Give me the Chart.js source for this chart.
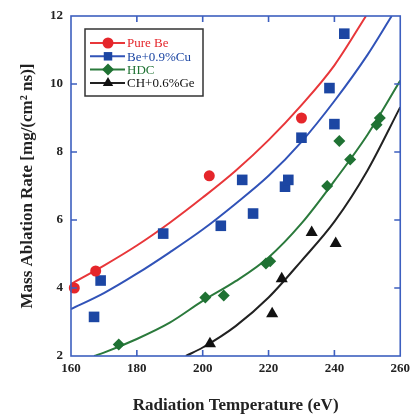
<!DOCTYPE html>
<html>
<head>
<meta charset="utf-8">
<script src="https://cdn.jsdelivr.net/npm/chart.js@4/dist/chart.umd.min.js"></script>
<style>
  html, body { margin: 0; padding: 0; background: #fff; }
  #wrap { width: 415px; height: 417px; }
</style>
</head>
<body>
<div id="wrap"><canvas id="ablationChart" width="415" height="417"></canvas></div>
<script>
// Measured ablation rates, temperature in eV, rate in mg/(cm2 ns)
const pureBeT = [161, 167.5, 202, 230];
const pureBeRate = [4.0, 4.5, 7.3, 9.0];

const beCuT = [167, 169, 188, 205.5, 212, 215.3, 225, 226, 230, 238.5, 240, 243];
const beCuRate = [3.15, 4.22, 5.6, 5.83, 7.18, 6.19, 6.98, 7.18, 8.42, 9.88, 8.82, 11.48];

const hdcT = [174.5, 200.8, 206.4, 219.2, 220.5, 237.8, 241.5, 244.8, 252.8, 253.8];
const hdcRate = [2.34, 3.72, 3.78, 4.72, 4.79, 7.0, 8.32, 7.78, 8.8, 9.0];

const chGeT = [202.2, 221.1, 224, 233.1, 240.4];
const chGeRate = [2.36, 3.24, 4.27, 5.63, 5.31];

// Fitted curves
const fitBeT = [160, 170, 180, 190, 200, 210, 220, 230, 240, 249.6];
const fitBeRate = [4.12, 4.66, 5.25, 5.92, 6.66, 7.45, 8.35, 9.38, 10.55, 12];

const fitCuT = [160, 170, 180, 190, 200, 210, 220, 230, 240, 250, 257.4];
const fitCuRate = [3.38, 3.85, 4.42, 5.05, 5.72, 6.48, 7.3, 8.3, 9.5, 10.85, 12];

const fitHdcT = [167, 170, 180, 190, 200, 210, 220, 230, 240, 250, 260];
const fitHdcRate = [2.0, 2.1, 2.5, 2.98, 3.62, 4.2, 4.9, 5.9, 7.15, 8.5, 10.1];

const fitGeT = [194.9, 200, 210, 220, 230, 240, 250, 260];
const fitGeRate = [2.0, 2.25, 2.88, 3.72, 4.8, 5.95, 7.45, 9.32];

const xTicks = [160, 180, 200, 220, 240, 260];
const yTicks = [2, 4, 6, 8, 10, 12];

const seriesLabels = ['Pure Be', 'Be+0.9%Cu', 'HDC', 'CH+0.6%Ge'];
const seriesColors = ['#e5262b', '#1c46a3', '#1f7233', '#111111'];
const lineColors = ['#e8373a', '#3153b8', '#2b7a3c', '#222222'];
const markers = [
  { pointStyle: 'circle', radius: 5.5 },
  { pointStyle: 'rect', radius: 7.5 },
  { pointStyle: 'rectRot', radius: 6 },
  { pointStyle: 'triangle', radius: 7 }
];

const frameColor = '#3d5fbf';
const serif = "'Liberation Serif', 'DejaVu Serif', serif";

function toXY(xs, ys) {
  return xs.map((x, i) => ({ x: x, y: ys[i] }));
}

const pointSets = [[pureBeT, pureBeRate], [beCuT, beCuRate], [hdcT, hdcRate], [chGeT, chGeRate]];
const fitSets = [[fitBeT, fitBeRate], [fitCuT, fitCuRate], [fitHdcT, fitHdcRate], [fitGeT, fitGeRate]];

const datasets = [];
pointSets.forEach((s, i) => {
  datasets.push({
    label: seriesLabels[i],
    data: toXY(s[0], s[1]),
    showLine: false,
    pointStyle: markers[i].pointStyle,
    pointRadius: markers[i].radius,
    pointHoverRadius: markers[i].radius,
    backgroundColor: seriesColors[i],
    borderColor: seriesColors[i],
    pointBorderWidth: 0,
    clip: false,
    order: 1
  });
});
fitSets.forEach((s, i) => {
  datasets.push({
    label: seriesLabels[i] + ' fit',
    data: toXY(s[0], s[1]),
    showLine: true,
    pointRadius: 0,
    borderColor: lineColors[i],
    borderWidth: 2,
    cubicInterpolationMode: 'monotone',
    fill: false,
    order: 2
  });
});

// box frame with inward ticks on all four sides
const framePlugin = {
  id: 'frame',
  afterDatasetsDraw(chart) {
    const { ctx, chartArea: a, scales } = chart;
    ctx.save();
    ctx.strokeStyle = frameColor;
    ctx.lineWidth = 1.6;
    ctx.strokeRect(a.left, a.top, a.right - a.left, a.bottom - a.top);
    const len = 6;
    ctx.beginPath();
    xTicks.slice(1, -1).forEach(v => {
      const px = scales.x.getPixelForValue(v);
      ctx.moveTo(px, a.bottom); ctx.lineTo(px, a.bottom - len);
      ctx.moveTo(px, a.top); ctx.lineTo(px, a.top + len);
    });
    yTicks.slice(1, -1).forEach(v => {
      const py = scales.y.getPixelForValue(v);
      ctx.moveTo(a.left, py); ctx.lineTo(a.left + len, py);
      ctx.moveTo(a.right, py); ctx.lineTo(a.right - len, py);
    });
    ctx.stroke();
    ctx.restore();
  }
};

// boxed legend in the upper left corner of the plot
const boxLegendPlugin = {
  id: 'boxLegend',
  afterDraw(chart) {
    const { ctx } = chart;
    const bx = 85, by = 29, bw = 118, bh = 67;
    ctx.save();
    ctx.fillStyle = '#fff';
    ctx.fillRect(bx, by, bw, bh);
    ctx.strokeStyle = '#333';
    ctx.lineWidth = 1.5;
    ctx.strokeRect(bx, by, bw, bh);
    ctx.font = '13px ' + serif;
    ctx.textBaseline = 'middle';
    for (let i = 0; i < 4; i++) {
      const ds = chart.data.datasets[i];
      const y = by + 14 + i * 13.3;
      ctx.strokeStyle = lineColors[i];
      ctx.lineWidth = 2;
      ctx.beginPath();
      ctx.moveTo(bx + 5, y);
      ctx.lineTo(bx + 40, y);
      ctx.stroke();
      ctx.fillStyle = ds.backgroundColor;
      Chart.helpers.drawPoint(ctx, {
        pointStyle: ds.pointStyle,
        radius: Math.min(ds.pointRadius, 6),
        rotation: 0,
        borderWidth: 0
      }, bx + 23, y);
      ctx.fillStyle = ds.borderColor;
      ctx.fillText(ds.label, bx + 42, y + 1);
    }
    ctx.restore();
  }
};

const ctx = document.getElementById('ablationChart').getContext('2d');
const ablationChart = new Chart(ctx, {
  type: 'scatter',
  data: { datasets: datasets },
  options: {
    responsive: false,
    animation: false,
    devicePixelRatio: 1,
    layout: { padding: { top: 16, right: 3, left: 0, bottom: 0 } },
    plugins: {
      legend: { display: false },
      tooltip: { enabled: false }
    },
    scales: {
      x: {
        type: 'linear',
        min: 160,
        max: 260,
        afterFit(scale) { scale.height = 61; },
        afterBuildTicks(scale) { scale.ticks = xTicks.map(v => ({ value: v })); },
        grid: { display: false, drawTicks: false },
        border: { display: false },
        ticks: {
          padding: 5,
          color: '#222',
          font: { family: serif, size: 13, weight: 'bold' }
        },
        title: {
          display: true,
          text: 'Radiation Temperature (eV)',
          color: '#222',
          padding: { top: 0, bottom: 1 },
          font: { family: serif, size: 17, weight: 'bold' }
        }
      },
      y: {
        min: 2,
        max: 12,
        afterFit(scale) { scale.width = 71; },
        afterBuildTicks(scale) { scale.ticks = yTicks.map(v => ({ value: v })); },
        grid: { display: false, drawTicks: false },
        border: { display: false },
        ticks: {
          padding: 8,
          color: '#222',
          font: { family: serif, size: 13, weight: 'bold' }
        },
        title: {
          display: true,
          text: 'Mass Ablation Rate [mg/(cm² ns)]',
          color: '#222',
          padding: { top: 17, bottom: 0 },
          font: { family: serif, size: 17, weight: 'bold' }
        }
      }
    }
  },
  plugins: [framePlugin, boxLegendPlugin]
});
</script>
</body>
</html>
